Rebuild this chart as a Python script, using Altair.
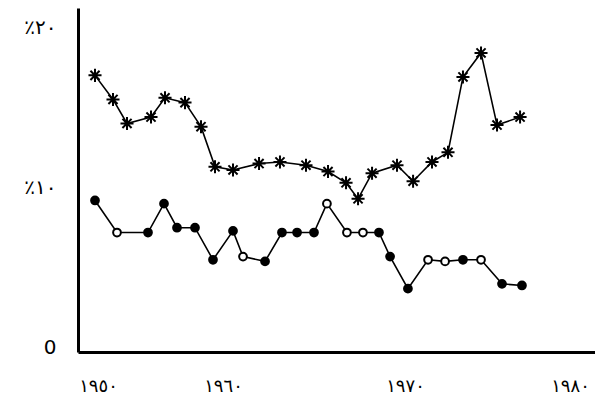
import altair as alt
import pandas as pd

# Upper series (asterisk markers): year position and percentage
star_years = [1949.76, 1951.2, 1952.32, 1954.24, 1955.36, 1956.96, 1958.24, 1959.36,
              1960.55, 1961.98, 1963.13, 1964.56, 1965.77, 1966.76, 1967.42, 1968.19,
              1969.56, 1970.47, 1971.57, 1972.5, 1973.37, 1974.42, 1975.35, 1976.69]
star_vals = [17.0, 15.5, 14.0, 14.4, 15.6, 15.3, 13.8, 11.3,
             11.1, 11.5, 11.6, 11.4, 11.0, 10.3, 9.3, 10.9,
             11.4, 10.4, 11.6, 12.2, 16.9, 18.4, 13.9, 14.4]

# Lower series (circle markers)
dot_years = [1949.76, 1951.52, 1954.0, 1955.28, 1956.32, 1957.76, 1959.2, 1960.55,
             1961.1, 1962.31, 1963.24, 1964.07, 1965.0, 1965.71, 1966.81, 1967.69,
             1968.57, 1969.18, 1970.17, 1971.34, 1972.33, 1973.37, 1974.42, 1975.64, 1976.8]
dot_vals = [9.2, 7.2, 7.2, 9.0, 7.5, 7.5, 5.5, 7.3,
            5.7, 5.4, 7.2, 7.2, 7.2, 9.0, 7.2, 7.2,
            7.2, 5.7, 3.7, 5.5, 5.4, 5.5, 5.5, 4.0, 3.9]
dot_kind = ["filled", "hollow", "filled", "filled", "filled", "filled", "filled", "filled",
            "hollow", "filled", "filled", "filled", "filled", "hollow", "hollow", "hollow",
            "filled", "filled", "filled", "hollow", "hollow", "filled", "hollow", "filled", "filled"]

x_ticks = [1950, 1960, 1970, 1980]
x_labels = ["١٩٥٠", "١٩٦٠", "١٩٧٠", "١٩٨٠"]
y_ticks = [0, 10, 20]
y_labels = ["0", "٪١٠", "٪٢٠"]


def label_expr(ticks, labels):
    expr = "''"
    for t, l in reversed(list(zip(ticks, labels))):
        expr = f"datum.value == {t} ? '{l}' : ({expr})"
    return expr


star_df = pd.DataFrame({"year": star_years, "value": star_vals})
dot_df = pd.DataFrame({"year": dot_years, "value": dot_vals, "kind": dot_kind})

x_scale = alt.Scale(domain=[1948.4, 1950, 1960, 1970, 1980, 1981.05],
                    range=[0, 20, 145, 327, 499, 517], nice=False, zero=False)
y_scale = alt.Scale(domain=[-0.25, 21.2], nice=False, zero=False)

x_enc = alt.X("year:Q", scale=x_scale,
              axis=alt.Axis(values=x_ticks, labelExpr=label_expr(x_ticks, x_labels),
                            title=None, grid=False, ticks=False, domainWidth=3,
                            domainColor="black", labelFontSize=18, labelColor="black",
                            labelFont="DejaVu Sans", labelPadding=25, labelBaseline="top",
                            labelOffset={"condition": {"test": "datum.value == 1980", "value": -7},
                                         "value": 0},
                            labelFlush=False, labelOverlap=False))
y_enc = alt.Y("value:Q", scale=y_scale,
              axis=alt.Axis(values=y_ticks, labelExpr=label_expr(y_ticks, y_labels),
                            title=None, grid=False, ticks=False, domainWidth=3,
                            domainColor="black", labelFontSize=20, labelColor="black",
                            labelFont="DejaVu Sans", labelPadding=22,
                            labelFlush=False, labelOverlap=False))

asterisk = "M-1,0L1,0M0,-1L0,1M-0.7,-0.7L0.7,0.7M-0.7,0.7L0.7,-0.7"

star_line = alt.Chart(star_df).mark_line(color="black", strokeWidth=1.6).encode(x=x_enc, y=y_enc)
star_pts = alt.Chart(star_df).mark_point(shape=asterisk, size=170, color="black",
                                         strokeWidth=2, opacity=1).encode(x=x_enc, y=y_enc)
dot_line = alt.Chart(dot_df).mark_line(color="black", strokeWidth=1.6).encode(x=x_enc, y=y_enc)
dot_pts = alt.Chart(dot_df).mark_point(shape="circle", size=60, stroke="black",
                                       strokeWidth=2, filled=True, opacity=1).encode(
    x=x_enc, y=y_enc,
    fill=alt.Fill("kind:N", scale=alt.Scale(domain=["filled", "hollow"],
                                            range=["black", "white"]), legend=None),
    stroke=alt.value("black"))

chart = alt.layer(star_line, star_pts, dot_line, dot_pts).properties(
    width=517, height=344,
    autosize=alt.AutoSizeParams(type="none"),
    padding={"left": 70, "top": 0, "right": 0, "bottom": 50},
    background="white",
).configure_view(stroke=None)

chart.save("out.html", embed_options={"renderer": "svg", "actions": False})
